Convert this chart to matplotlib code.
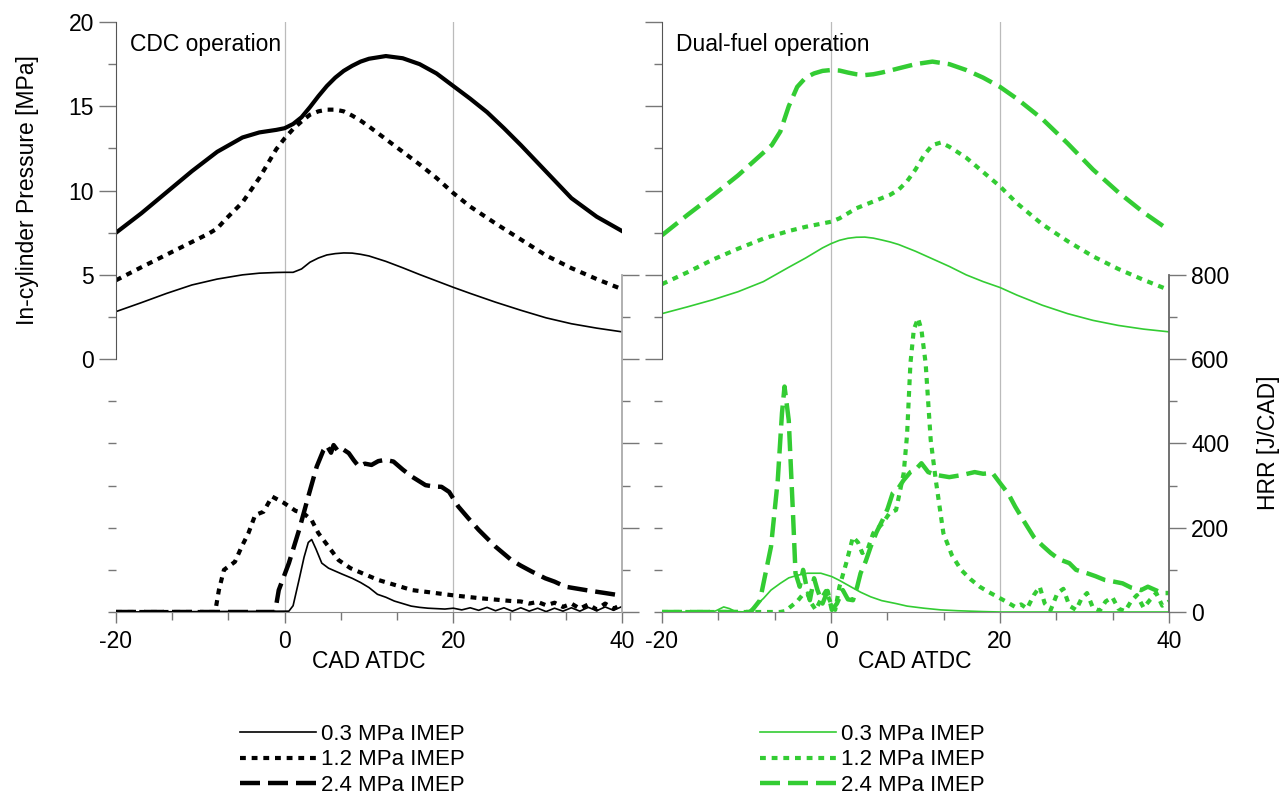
import numpy as np
import matplotlib
matplotlib.use("Agg")
import matplotlib.pyplot as plt
from matplotlib.ticker import MultipleLocator
from matplotlib.lines import Line2D

plt.rcParams['font.family'] = ['Liberation Sans', 'DejaVu Sans']
plt.rcParams['axes.unicode_minus'] = False

# ---------------- data ----------------
# CDC operation: in-cylinder pressure [MPa]
cdc_p03_cad = [-20, -17, -14, -11, -8, -5, -3, -1, 0, 1, 2, 3, 4, 5, 6, 7, 8, 9, 10,
               12, 14, 16, 18, 20, 22, 25, 28, 31, 34, 37, 40]
cdc_p03 = [2.82, 3.35, 3.9, 4.4, 4.75, 5.0, 5.1, 5.14, 5.15, 5.15, 5.35, 5.75, 6.0, 6.18,
           6.26, 6.3, 6.29, 6.22, 6.12, 5.8, 5.42, 5.02, 4.64, 4.26, 3.9, 3.38, 2.9, 2.45,
           2.1, 1.84, 1.62]
cdc_p12_cad = [-20, -17, -14, -11, -9, -8, -7, -5, -3, -1, 0, 1, 2, 3, 4, 5, 6, 7, 8, 9, 10,
               12, 14, 16, 18, 20, 22, 25, 28, 31, 34, 37, 40]
cdc_p12 = [4.68, 5.45, 6.2, 6.95, 7.45, 7.75, 8.3, 9.3, 10.75, 12.45, 13.1, 13.65, 14.1,
           14.5, 14.7, 14.8, 14.8, 14.7, 14.45, 14.15, 13.8, 13.05, 12.3, 11.55, 10.75, 9.85,
           9.05, 8.05, 7.1, 6.15, 5.4, 4.75, 4.15]
cdc_p24_cad = [-20, -17, -14, -11, -8, -5, -3, -1, 0, 1, 2, 3, 4, 5, 6, 7, 8, 9, 10,
               12, 14, 16, 18, 20, 22, 24, 26, 28, 30, 32, 34, 37, 40]
cdc_p24 = [7.5, 8.65, 9.9, 11.15, 12.3, 13.15, 13.45, 13.6, 13.7, 13.95, 14.35, 14.95, 15.6,
           16.2, 16.7, 17.1, 17.4, 17.65, 17.82, 17.98, 17.85, 17.5, 16.95, 16.2, 15.45,
           14.65, 13.7, 12.7, 11.65, 10.6, 9.55, 8.45, 7.6]

# CDC operation: heat release rate [J/CAD]
cdc_h03_cad = [-20, 0.5, 1, 1.7, 2.3, 2.8, 3.2, 3.7, 4.4, 5.2, 6.8, 8, 9, 10, 11, 12, 13, 14,
               15, 16, 17, 18, 19, 20, 21, 22, 23, 24, 25, 26, 27, 28, 29, 30, 31, 32, 33,
               34, 35, 36, 37, 38, 39, 40]
cdc_h03 = [0, 2, 15, 76, 130, 165, 172, 150, 116, 104, 90, 80, 70, 58, 42, 35, 26, 20, 14, 11,
           9, 8, 7, 9, 5, 10, 4, 11, 3, 10, 2, 10, 2, 9, 1, 9, 2, 10, 2, 11, 3, 12, 4, 13]
cdc_h12_cad = [-20, -8.3, -8.2, -7.8, -7.2, -5.9, -5.1, -4.3, -3.5, -2.5, -1.5, -0.1, 1.3, 2.2,
               3.2, 4.0, 5.2, 6.4, 7.8, 9.2, 11.1, 13.1, 15.1, 17.1, 19.8, 23, 26.9, 28, 29,
               30, 31, 32, 33, 34, 35, 36, 37, 38, 39, 40]
cdc_h12 = [0, 0, 5, 52, 100, 119, 155, 187, 230, 238, 274, 259, 240, 235, 218, 187, 155, 123,
           104, 92, 76, 64, 52, 47, 40, 33, 26, 25, 20, 24, 16, 22, 12, 20, 8, 18, 6, 20, 8, 18]
cdc_h24_cad = [-20, -1.2, -1.1, -0.7, 0.5, 1.7, 2.8, 3.8, 4.6, 5.0, 5.5, 5.8, 6.4, 7.0, 7.6,
               8.2, 8.8, 9.5, 10.3, 11.1, 11.9, 12.9, 14, 15.1, 16.7, 17.6, 18.6, 19.5, 20.6,
               21.8, 23.0, 25, 26.9, 28, 29.3, 30.9, 32, 33.3, 34.5, 35.7, 37, 38, 39.6, 40]
cdc_h24 = [0, 0, 5, 52, 116, 194, 274, 345, 384, 395, 378, 396, 380, 385, 377, 360, 345, 352,
           349, 358, 361, 357, 338, 321, 301, 298, 297, 285, 250, 222, 195, 155, 123, 110,
           96, 80, 72, 60, 56, 52, 48, 45, 40, 40]

# Dual-fuel operation: in-cylinder pressure [MPa]
df_p03_cad = [-20, -17, -14, -11, -8, -5, -3, -1, 0, 1, 2, 3, 4, 5, 6, 7, 8, 9, 10,
              12, 14, 16, 18, 20, 22, 25, 28, 31, 34, 37, 40]
df_p03 = [2.7, 3.1, 3.52, 4.0, 4.6, 5.45, 6.0, 6.6, 6.85, 7.05, 7.17, 7.23, 7.24, 7.18, 7.07,
          6.95, 6.8, 6.6, 6.4, 5.95, 5.5, 5.0, 4.6, 4.25, 3.8, 3.2, 2.7, 2.3, 2.0, 1.78, 1.62]
df_p12_cad = [-20, -17, -14, -11, -8, -5, -3, -1, 0, 1, 2, 3, 4, 5, 6, 7, 8, 9, 10, 11, 12,
              13, 14, 16, 18, 20, 22, 25, 28, 31, 34, 37, 40]
df_p12 = [4.45, 5.15, 5.9, 6.55, 7.15, 7.6, 7.85, 8.05, 8.15, 8.35, 8.65, 8.95, 9.15, 9.35,
          9.55, 9.75, 10.05, 10.55, 11.25, 12.1, 12.7, 12.85, 12.6, 11.95, 11.1, 10.25, 9.25,
          8.0, 7.0, 6.1, 5.35, 4.7, 4.1]
df_p24_cad = [-20, -17, -14, -11, -8, -7, -6, -5, -4, -3, -2, -1, 0, 1, 2, 3, 4, 5, 6, 7, 8,
              10, 12, 14, 16, 18, 20, 22, 25, 28, 31, 34, 37, 40]
df_p24 = [7.35, 8.55, 9.7, 10.9, 12.25, 12.7, 13.5, 15.0, 16.15, 16.7, 16.95, 17.1, 17.15,
          17.12, 17.0, 16.9, 16.85, 16.9, 17.0, 17.12, 17.25, 17.5, 17.65, 17.5, 17.15, 16.7,
          16.15, 15.45, 14.25, 12.8, 11.25, 9.9, 8.7, 7.65]

# Dual-fuel operation: heat release rate [J/CAD]
df_h03_cad = [-20, -14, -13.5, -12.7, -12, -11.3, -10, -9.7, -9, -8, -7.1, -6, -5, -4, -2.8,
              -1.2, 0.1, 1, 2.6, 3.5, 4.7, 6, 7.7, 9, 11, 13, 15, 18, 20, 40]
df_h03 = [0, 0, 4, 12, 8, 1, 0, 3, 14, 32, 52, 68, 81, 87, 92, 92, 84, 75, 57, 47, 36, 27,
          20, 14, 9, 5, 3, 1, 0, 0]
df_h12_cad = [-20, -6, -5.5, -5, -4, -3.4, -2.8, -2.3, -1.8, -1.2, -0.6, 0, 0.5, 1, 1.8, 2.6,
              3.2, 3.7, 4.3, 5, 5.6, 6.1, 6.9, 7.7, 8.6, 9, 9.4, 9.8, 10.3, 10.7, 11.2, 11.8,
              12.4, 13.3, 14.3, 15.4, 16.5, 17.6, 18.6, 19.7, 20.7, 21.8, 22.5, 23.2, 24,
              24.7, 25.3, 26, 26.8, 27.5, 28.2, 29, 29.6, 30.3, 31, 31.8, 32.5, 33.3, 34,
              34.8, 35.5, 36.2, 37, 37.8, 38.5, 39.2, 40]
df_h12 = [0, 0, 2, 9, 25, 40, 44, 20, 5, 30, 50, 20, 5, 60, 116, 178, 165, 140, 147, 187,
          200, 210, 234, 242, 329, 420, 590, 670, 697, 670, 590, 408, 313, 187, 135, 100, 78,
          60, 48, 36, 25, 12, 18, 8, 40, 60, 20, 5, 45, 55, 15, 5, 30, 45, 10, 3, 25, 35, 8,
          2, 25, 40, 10, 30, 45, 15, 25]
df_h24_cad = [-20, -9.5, -8.4, -7.1, -6.3, -5.8, -5.5, -5.0, -4.5, -4.2, -3.7, -3.3, -2.9,
              -2.5, -2.0, -1.6, -1.0, -0.4, 0.1, 0.7, 1.4, 2.0, 2.6, 3.1, 3.5, 4.1, 4.7, 5.4,
              6.1, 6.7, 7.3, 8.0, 8.6, 9.4, 10.0, 10.7, 11.5, 12.5, 14.0, 15.5, 17.0, 18,
              19.1, 20, 21, 21.8, 23, 24, 25, 26, 27, 28.2, 29, 30.3, 31.3, 32.4, 33.5, 34.5,
              35.5, 36.7, 37.5, 38.4, 39.2, 40]
df_h24 = [0, 0, 28, 155, 313, 472, 535, 455, 234, 92, 60, 100, 60, 28, 80, 52, 20, 50, 5, 20,
          52, 30, 28, 60, 92, 120, 155, 190, 218, 245, 282, 295, 313, 332, 338, 353, 332, 325,
          320, 325, 332, 328, 330, 306, 280, 250, 210, 178, 158, 140, 125, 116, 100, 92, 85,
          76, 72, 68, 58, 52, 60, 52, 45, 45]

legend_labels = ["0.3 MPa IMEP", "1.2 MPa IMEP", "2.4 MPa IMEP"]
panel_titles = ["CDC operation", "Dual-fuel operation"]

# ---------------- styling ----------------
W, H = 1287, 800
FS = 16.5
GREEN = '#33cc33'
DOT = (0, (1.4, 1.4))
DASH = (0, (4.5, 1.8))
TICKC = '#777777'

fig = plt.figure(figsize=(W / 100, H / 100), dpi=100)


def px_axes(x0, x1, y0, y1):
    return fig.add_axes([x0 / W, 1 - y1 / H, (x1 - x0) / W, (y1 - y0) / H])


def setup_panel(ax, label_left, label_right, right_spine_color):
    ax.set_xlim(-20, 40)
    ax.set_ylim(-15, 20)
    axh = ax.twinx()
    axh.set_ylim(0, 1400)
    for s in ['top', 'right']:
        ax.spines[s].set_visible(False)
    for s in ['top', 'left', 'bottom']:
        axh.spines[s].set_visible(False)
    ax.spines['left'].set_bounds(0, 20)
    ax.spines['left'].set_color('#555555')
    ax.spines['bottom'].set_color('#888888')
    axh.spines['right'].set_bounds(0, 800)
    axh.spines['right'].set_color(right_spine_color)
    axh.spines['right'].set_linewidth(1.3)

    ax.set_xticks([-20, 0, 20, 40])
    ax.xaxis.set_minor_locator(MultipleLocator(20 / 3))
    ax.set_yticks([0, 5, 10, 15, 20])
    ax.yaxis.set_minor_locator(MultipleLocator(2.5))
    axh.set_yticks([0, 200, 400, 600, 800])
    axh.set_yticks(np.arange(0, 801, 100), minor=True)

    ax.tick_params(axis='x', which='major', direction='out', length=8, width=1,
                   color=TICKC, pad=5, labelsize=FS)
    ax.tick_params(axis='x', which='minor', direction='out', length=6, width=1, color=TICKC)
    ax.tick_params(axis='y', which='major', direction='out', length=12, width=1,
                   color=TICKC, pad=4, labelsize=FS, labelleft=label_left)
    ax.tick_params(axis='y', which='minor', direction='out', length=6, width=1, color=TICKC)
    axh.tick_params(axis='y', which='major', direction='out', length=12, width=1,
                    color=TICKC, pad=4, labelsize=FS, labelright=label_right)
    axh.tick_params(axis='y', which='minor', direction='out', length=6, width=1, color=TICKC)

    for xv in (0, 20):
        ax.axvline(xv, color='#bbbbbb', lw=0.9, zorder=0)
    return axh


# ---------------- left panel: CDC ----------------
axL = px_axes(116, 622, 22, 612)
axLh = setup_panel(axL, True, False, '#aaaaaa')
axL.plot(cdc_p03_cad, cdc_p03, color='black', lw=1.2)
axL.plot(cdc_p12_cad, cdc_p12, color='black', lw=3, linestyle=DOT)
axL.plot(cdc_p24_cad, cdc_p24, color='black', lw=3)
axLh.plot(cdc_h03_cad, cdc_h03, color='black', lw=1.2)
axLh.plot(cdc_h12_cad, cdc_h12, color='black', lw=3, linestyle=DOT)
axLh.plot(cdc_h24_cad, cdc_h24, color='black', lw=3.2, linestyle=DASH)

# ---------------- right panel: dual fuel ----------------
axR = px_axes(662, 1169, 22, 612)
axRh = setup_panel(axR, False, True, '#666666')
axR.plot(df_p03_cad, df_p03, color=GREEN, lw=1.2)
axR.plot(df_p12_cad, df_p12, color=GREEN, lw=3, linestyle=DOT)
axR.plot(df_p24_cad, df_p24, color=GREEN, lw=3.2, linestyle=DASH)
axRh.plot(df_h03_cad, df_h03, color=GREEN, lw=1.2)
axRh.plot(df_h12_cad, df_h12, color=GREEN, lw=3, linestyle=DOT)
axRh.plot(df_h24_cad, df_h24, color=GREEN, lw=3.2, linestyle=DASH)

# ---------------- texts ----------------
fig.text(130 / W, 1 - 45 / H, panel_titles[0], fontsize=FS, va='center', ha='left')
fig.text(676 / W, 1 - 45 / H, panel_titles[1], fontsize=FS, va='center', ha='left')
fig.text(28 / W, 1 - 190 / H, "In-cylinder Pressure [MPa]", fontsize=FS, rotation=90,
         va='center', ha='center')
fig.text(1268 / W, 1 - 443 / H, "HRR [J/CAD]", fontsize=FS, rotation=90,
         va='center', ha='center')
fig.text(369 / W, 1 - 662 / H, "CAD ATDC", fontsize=FS, va='center', ha='center')
fig.text(915 / W, 1 - 662 / H, "CAD ATDC", fontsize=FS, va='center', ha='center')

# ---------------- legends ----------------
def make_handles(color):
    return [Line2D([], [], color=color, lw=1.2),
            Line2D([], [], color=color, lw=3, linestyle=DOT),
            Line2D([], [], color=color, lw=3.2, linestyle=DASH)]


for hx, color in ((240, 'black'), (760, GREEN)):
    leg = fig.legend(make_handles(color), legend_labels, loc='upper left',
                     bbox_to_anchor=(hx / W, 1 - 724 / H), frameon=False, fontsize=16,
                     handlelength=3.4, handletextpad=0.25, labelspacing=0.2,
                     borderpad=0, borderaxespad=0)

fig.savefig("out.png", dpi=100)
